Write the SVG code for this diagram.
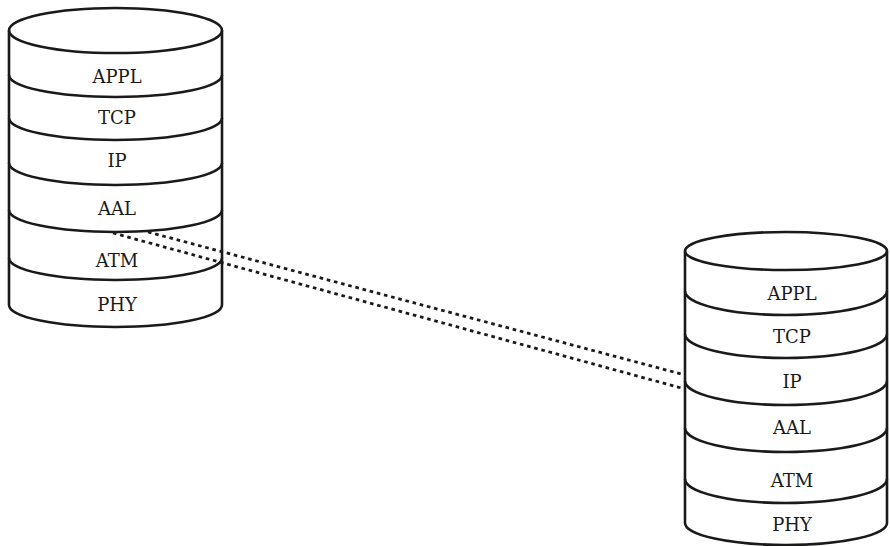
<svg xmlns="http://www.w3.org/2000/svg" width="890" height="546" viewBox="0 0 890 546">
<style>
.o{fill:none;stroke:#1a1a1a;stroke-width:2.6}
.t{font-family:"DejaVu Serif","Liberation Serif",serif;font-size:18px;fill:#1a1a1a;text-anchor:middle}
.d{fill:none;stroke:#1a1a1a;stroke-width:2.8;stroke-dasharray:3.6 3.8}
</style>
<rect width="890" height="546" fill="#fff"/>
<g id="connectors">
<line class="d" x1="148" y1="232" x2="685" y2="375"/>
<line class="d" x1="113" y1="233" x2="685" y2="389"/>
</g>
<g id="stackA">
<ellipse class="o" cx="115.5" cy="30.5" rx="106.5" ry="22.5"/>
<line class="o" x1="9" y1="30.5" x2="9" y2="305"/>
<line class="o" x1="222" y1="30.5" x2="222" y2="305"/>
<g id="A-appl"><path class="o" d="M9,75 A106.5,22 0 0 0 222,75"/><text class="t" x="117" y="83">APPL</text></g>
<g id="A-tcp"><path class="o" d="M9,118 A106.5,22 0 0 0 222,118"/><text class="t" x="117" y="124">TCP</text></g>
<g id="A-ip"><path class="o" d="M9,163 A106.5,22 0 0 0 222,163"/><text class="t" x="117" y="167">IP</text></g>
<g id="A-aal"><path class="o" d="M9,210 A106.5,22 0 0 0 222,210"/><text class="t" x="117" y="215">AAL</text></g>
<g id="A-atm"><path class="o" d="M9,258 A106.5,22 0 0 0 222,258"/><text class="t" x="117" y="267">ATM</text></g>
<g id="A-phy"><path class="o" d="M9,305 A106.5,22 0 0 0 222,305"/><text class="t" x="117" y="311">PHY</text></g>
</g>
<g id="stackB">
<ellipse class="o" cx="786" cy="251" rx="101" ry="19"/>
<line class="o" x1="685" y1="251" x2="685" y2="523"/>
<line class="o" x1="887" y1="251" x2="887" y2="523"/>
<g id="B-appl"><path class="o" d="M685,291 A101,24 0 0 0 887,291"/><text class="t" x="792" y="300">APPL</text></g>
<g id="B-tcp"><path class="o" d="M685,334 A101,24 0 0 0 887,334"/><text class="t" x="792" y="343">TCP</text></g>
<g id="B-ip"><path class="o" d="M685,381 A101,24 0 0 0 887,381"/><text class="t" x="792" y="388">IP</text></g>
<g id="B-aal"><path class="o" d="M685,428 A101,24 0 0 0 887,428"/><text class="t" x="792" y="434">AAL</text></g>
<g id="B-atm"><path class="o" d="M685,479 A101,24 0 0 0 887,479"/><text class="t" x="792" y="487">ATM</text></g>
<g id="B-phy"><path class="o" d="M685,523 A101,22 0 0 0 887,523"/><text class="t" x="792" y="531">PHY</text></g>
</g>
</svg>
